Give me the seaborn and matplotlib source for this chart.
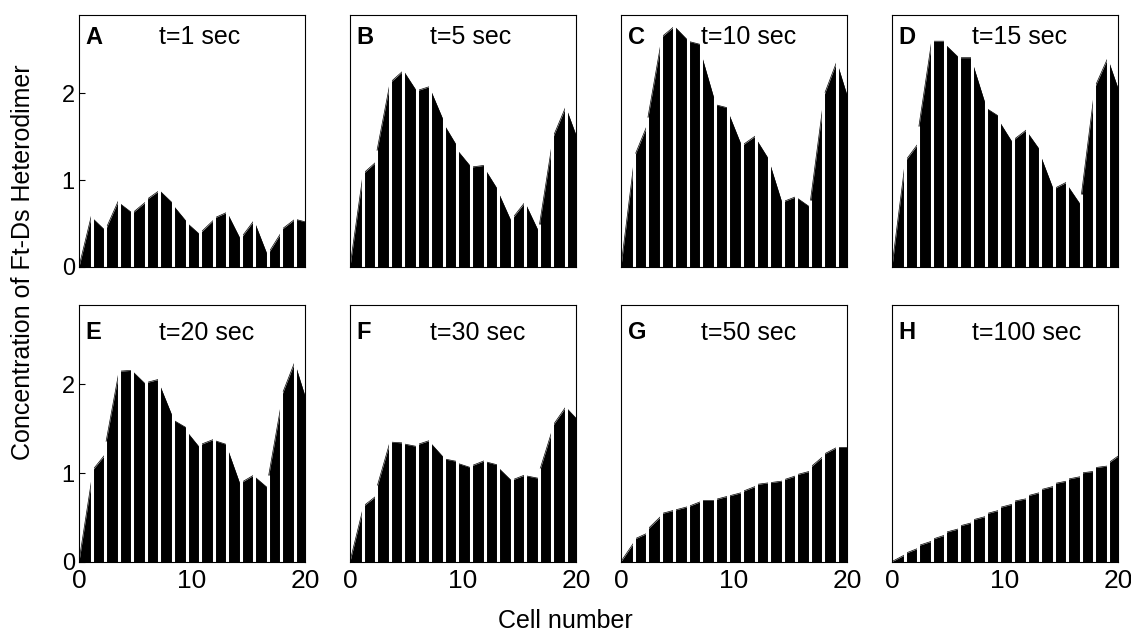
import numpy as np
import pandas as pd
import seaborn as sns
import matplotlib.pyplot as plt

# cell boundaries along the row of cells (x axis, cell number)
cell_edges = [0, 1.12, 2.32, 3.52, 4.72, 5.92, 7.12, 8.32, 9.52, 10.72,
              11.92, 13.12, 14.32, 15.52, 16.72, 17.92, 19.12, 20]

letters = ["A", "B", "C", "D", "E", "F", "G", "H"]
times = ["t=1 sec", "t=5 sec", "t=10 sec", "t=15 sec",
         "t=20 sec", "t=30 sec", "t=50 sec", "t=100 sec"]

# heterodimer level at the start (left edge) and end (right edge) of each cell
start_A = [0, 0.57, 0.42, 0.74, 0.62, 0.77, 0.88, 0.71, 0.51, 0.39, 0.56, 0.62, 0.33, 0.52, 0.15, 0.43, 0.55]
end_A = [0.60, 0.42, 0.77, 0.62, 0.75, 0.88, 0.73, 0.52, 0.37, 0.54, 0.63, 0.31, 0.54, 0.12, 0.40, 0.55, 0.52]

start_B = [0, 1.07, 1.29, 2.12, 2.26, 2.03, 2.04, 1.64, 1.34, 1.15, 1.13, 0.86, 0.55, 0.73, 0.44, 1.48, 1.83]
end_B = [1.03, 1.21, 2.10, 2.26, 2.02, 2.08, 1.67, 1.38, 1.15, 1.17, 0.88, 0.51, 0.75, 0.40, 1.44, 1.85, 1.52]

start_C = [0, 1.25, 1.67, 2.64, 2.77, 2.60, 2.44, 1.87, 1.77, 1.40, 1.48, 1.21, 0.75, 0.80, 0.71, 1.96, 2.35]
end_C = [1.17, 1.63, 2.56, 2.77, 2.61, 2.56, 1.90, 1.83, 1.38, 1.51, 1.23, 0.71, 0.81, 0.69, 1.90, 2.37, 1.98]

start_D = [0, 1.21, 1.56, 2.60, 2.56, 2.41, 2.35, 1.83, 1.67, 1.46, 1.56, 1.29, 0.90, 0.94, 0.78, 2.06, 2.39]
end_D = [1.15, 1.42, 2.60, 2.60, 2.41, 2.41, 1.85, 1.73, 1.42, 1.58, 1.34, 0.88, 0.98, 0.71, 2.02, 2.41, 2.06]

start_E = [0, 1.02, 1.30, 2.15, 2.15, 2.02, 2.00, 1.60, 1.47, 1.32, 1.37, 1.28, 0.89, 0.96, 0.92, 1.87, 2.23]
end_E = [0.92, 1.21, 2.13, 2.16, 2.00, 2.06, 1.62, 1.51, 1.28, 1.38, 1.32, 0.85, 0.98, 0.83, 1.79, 2.26, 1.87]

start_F = [0, 0.62, 0.81, 1.35, 1.33, 1.32, 1.34, 1.16, 1.11, 1.08, 1.13, 1.06, 0.92, 0.97, 1.00, 1.53, 1.74]
end_F = [0.58, 0.74, 1.34, 1.34, 1.30, 1.37, 1.17, 1.13, 1.06, 1.14, 1.09, 0.91, 0.98, 0.94, 1.49, 1.75, 1.62]

start_G = [0, 0.25, 0.36, 0.54, 0.58, 0.62, 0.69, 0.70, 0.74, 0.79, 0.87, 0.89, 0.92, 0.98, 1.06, 1.21, 1.29]
end_G = [0.21, 0.32, 0.51, 0.58, 0.62, 0.68, 0.69, 0.74, 0.78, 0.85, 0.89, 0.91, 0.97, 1.02, 1.19, 1.29, 1.29]

start_H = [0, 0.09, 0.18, 0.25, 0.33, 0.40, 0.47, 0.54, 0.61, 0.68, 0.74, 0.81, 0.88, 0.93, 1.00, 1.06, 1.11]
end_H = [0.075, 0.15, 0.23, 0.30, 0.37, 0.44, 0.51, 0.58, 0.65, 0.71, 0.78, 0.85, 0.91, 0.96, 1.02, 1.08, 1.19]

starts = [start_A, start_B, start_C, start_D, start_E, start_F, start_G, start_H]
ends = [end_A, end_B, end_C, end_D, end_E, end_F, end_G, end_H]


def cell_profile(start, end):
    rows = []
    for k in range(len(start)):
        rows.append((cell_edges[k], start[k]))
        rows.append((cell_edges[k + 1], end[k]))
    return pd.DataFrame(rows, columns=["cell", "conc"])


sns.set_theme(style="ticks")
plt.rcParams["font.family"] = ["Liberation Sans", "DejaVu Sans"]
plt.rcParams["axes.linewidth"] = 0.8
plt.rcParams["text.color"] = "black"
plt.rcParams["xtick.color"] = "black"
plt.rcParams["ytick.color"] = "black"

fig = plt.figure(figsize=(11.31, 6.31), dpi=100)

left0, step, width = 0.0698, 0.2396, 0.1998
rows_pos = [(0.577, 0.399), (0.110, 0.407)]
label_y = [0.913, 0.891]

for i in range(8):
    r, c = divmod(i, 4)
    bottom, height = rows_pos[r]
    ax = fig.add_axes([left0 + c * step, bottom, width, height])

    df = cell_profile(starts[i], ends[i])
    ax.fill_between(df["cell"], 0, df["conc"], color="black", linewidth=0)
    sns.lineplot(data=df, x="cell", y="conc", ax=ax, color="black",
                 linewidth=0.5, estimator=None, sort=False)

    # white gaps between neighbouring cells
    inner = cell_edges[1:-1]
    tops = [max(ends[i][k], starts[i][k + 1]) + 0.06 for k in range(len(inner))]
    ax.vlines(inner, 0, tops, color="white", linewidth=2.2, zorder=3)

    ax.set_xlim(0, 20)
    ax.set_ylim(0, 2.9)
    ax.set_xticks([0, 10, 20])
    ax.set_yticks([0, 1, 2])
    ax.tick_params(axis="x", direction="in", length=0, labelsize=19, pad=5)
    ax.tick_params(axis="y", direction="in", length=4, width=0.8, labelsize=17, pad=3)
    if c != 0:
        ax.set_yticklabels([])
        ax.tick_params(axis="y", length=0)
    if r != 1:
        ax.set_xticklabels([])
    ax.set_xlabel("")
    ax.set_ylabel("")
    for s in ax.spines.values():
        s.set_visible(True)
        s.set_color("black")
        s.set_zorder(4)

    ax.text(0.03, label_y[r], letters[i], transform=ax.transAxes, fontsize=17,
            fontweight="bold", va="center", ha="left")
    ax.text(0.355, label_y[r], times[i], transform=ax.transAxes, fontsize=18,
            va="center", ha="left")

fig.text(0.5, 0.016, "Cell number", ha="center", va="center", fontsize=18)
fig.text(0.02, 0.585, "Concentration of Ft-Ds Heterodimer", ha="center",
         va="center", rotation=90, fontsize=18)

plt.savefig("out.png", dpi=100)
